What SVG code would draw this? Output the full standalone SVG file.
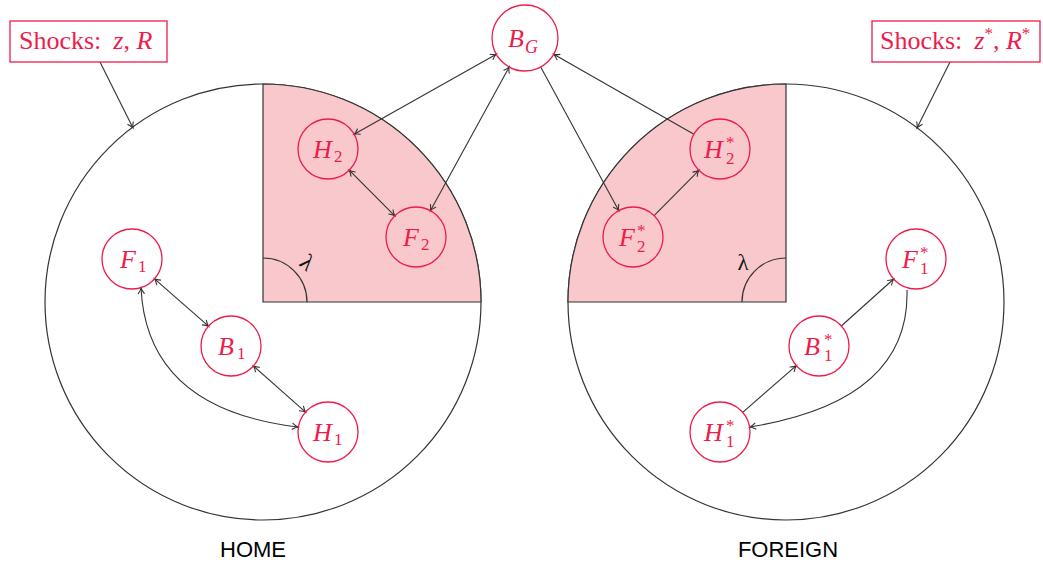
<svg xmlns="http://www.w3.org/2000/svg" width="1043" height="562" viewBox="0 0 1043 562">
<style>
.bg{fill:#ffffff}
.outline{fill:none;stroke:#333333;stroke-width:1.2}
.sector{fill:#f9c8cd;stroke:#333333;stroke-width:1.2}
.node{fill:none;stroke:#ee1c4b;stroke-width:1.3}
.box{fill:#ffffff;stroke:#ee1c4b;stroke-width:1.3}
.lab{font-family:"Liberation Serif","DejaVu Serif",serif;fill:#ee1c4b;font-size:26px}
.l{font-style:italic}
.s{font-size:17px;font-style:normal}
.shock{font-family:"Liberation Serif","DejaVu Serif",serif;fill:#ee1c4b;font-size:26px}
.it{font-style:italic}
.lam{font-family:"Liberation Serif","DejaVu Serif",serif;fill:#111111;font-size:23px}
.country{font-family:"Liberation Sans","Arial",sans-serif;fill:#000000;font-size:22px}
.edge{fill:none;stroke:#333333;stroke-width:1.1}
.arr{marker-end:url(#tip)}
.bi{marker-start:url(#tip);marker-end:url(#tip)}
</style>
<defs>
<marker id="tip" markerUnits="userSpaceOnUse" markerWidth="10" markerHeight="10" refX="6" refY="3.5" orient="auto-start-reverse" overflow="visible">
<path d="M0.5,0.5 Q3.5,2.8 6,3.5 Q3.5,4.2 0.5,6.5" fill="none" stroke="#333333" stroke-width="1.1" stroke-linecap="round"/>
</marker>
</defs>
<rect class="bg" x="0" y="0" width="1043" height="562"/>

<g id="home-region">
<circle class="outline" cx="263" cy="302" r="218"/>
<path class="sector" d="M263,302 L263,84 A218,218 0 0 1 481,302 Z"/>
<path class="outline" d="M263,258 A44,44 0 0 1 307,302"/>
<text class="lam" x="307" y="270" text-anchor="middle" transform="rotate(40 307 263)">λ</text>
<text class="country" x="253" y="557" text-anchor="middle">HOME</text>
</g>

<g id="foreign-region">
<circle class="outline" cx="786" cy="302" r="218"/>
<path class="sector" d="M786,302 L786,84 A218,218 0 0 0 568,302 Z"/>
<path class="outline" d="M786,258 A44,44 0 0 0 742,302"/>
<text class="lam" x="743" y="270" text-anchor="middle">λ</text>
<text class="country" x="788" y="557" text-anchor="middle">FOREIGN</text>
</g>

<g id="connectors">
<path class="edge arr" d="M100,62 L133,128"/>
<path class="edge arr" d="M950,62 L917,128"/>
<path class="edge bi" d="M496.3,54.2 L354.1,134.3"/>
<path class="edge bi" d="M509.2,66.9 L430.4,210.7"/>
<path class="edge arr" d="M540.7,67 L618.7,210.6"/>
<path class="edge arr" d="M693.9,134.2 L553.7,54.3"/>
<path class="edge bi" d="M349.2,170.2 L394.8,215.8"/>
<path class="edge arr" d="M654.1,215.7 L698.9,170.3"/>
<path class="edge bi" d="M154.5,278.8 L208.5,326.2"/>
<path class="edge bi" d="M253.4,365.9 L305.6,412.1"/>
<path class="edge bi" d="M141,288 Q147,409 298,427"/>
<path class="edge arr" d="M742.7,412.3 L796.3,365.7"/>
<path class="edge arr" d="M841.3,326 L893.7,279"/>
<path class="edge arr" d="M907,290 Q910,401 750,427"/>
</g>

<g id="shocks-home">
<rect class="box" x="10" y="21" width="157" height="41"/>
<text class="shock" x="19" y="49">Shocks:<tspan class="it" dx="12">z</tspan>, <tspan class="it">R</tspan></text>
</g>

<g id="shocks-foreign">
<rect class="box" x="872" y="21" width="168" height="41"/>
<text class="shock" x="880" y="49">Shocks:<tspan class="it" dx="12">z</tspan><tspan font-size="17" dy="-10">*</tspan><tspan dy="10">, </tspan><tspan class="it">R</tspan><tspan font-size="17" dy="-10">*</tspan></text>
</g>

<g id="node-BG">
<circle class="node" cx="525" cy="38" r="33"/>
<text class="lab"><tspan class="l" x="508" y="47">B</tspan><tspan class="l" x="525" y="53" font-size="18">G</tspan></text>
</g>

<g id="node-H2">
<circle class="node" cx="328" cy="149" r="30"/>
<text class="lab"><tspan class="l" x="313" y="158">H</tspan><tspan class="s" x="334" y="162">2</tspan></text>
</g>

<g id="node-F2">
<circle class="node" cx="416" cy="237" r="30"/>
<text class="lab"><tspan class="l" x="403" y="246">F</tspan><tspan class="s" x="421" y="250">2</tspan></text>
</g>

<g id="node-H2s">
<circle class="node" cx="720" cy="149" r="30"/>
<text class="lab"><tspan class="l" x="704" y="158">H</tspan><tspan class="s" x="726" y="148">*</tspan><tspan class="s" x="726" y="164">2</tspan></text>
</g>

<g id="node-F2s">
<circle class="node" cx="633" cy="237" r="30"/>
<text class="lab"><tspan class="l" x="619" y="246">F</tspan><tspan class="s" x="637" y="236">*</tspan><tspan class="s" x="637" y="252">2</tspan></text>
</g>

<g id="node-F1">
<circle class="node" cx="132" cy="259" r="30"/>
<text class="lab"><tspan class="l" x="120" y="268">F</tspan><tspan class="s" x="138" y="272">1</tspan></text>
</g>

<g id="node-B1">
<circle class="node" cx="231" cy="346" r="30"/>
<text class="lab"><tspan class="l" x="218" y="355">B</tspan><tspan class="s" x="237" y="359">1</tspan></text>
</g>

<g id="node-H1">
<circle class="node" cx="328" cy="432" r="30"/>
<text class="lab"><tspan class="l" x="313" y="441">H</tspan><tspan class="s" x="334" y="445">1</tspan></text>
</g>

<g id="node-F1s">
<circle class="node" cx="916" cy="259" r="30"/>
<text class="lab"><tspan class="l" x="902" y="268">F</tspan><tspan class="s" x="920" y="258">*</tspan><tspan class="s" x="920" y="274">1</tspan></text>
</g>

<g id="node-B1s">
<circle class="node" cx="819" cy="346" r="30"/>
<text class="lab"><tspan class="l" x="804" y="355">B</tspan><tspan class="s" x="824" y="345">*</tspan><tspan class="s" x="824" y="361">1</tspan></text>
</g>

<g id="node-H1s">
<circle class="node" cx="720" cy="432" r="30"/>
<text class="lab"><tspan class="l" x="704" y="441">H</tspan><tspan class="s" x="726" y="431">*</tspan><tspan class="s" x="726" y="447">1</tspan></text>
</g>
</svg>
